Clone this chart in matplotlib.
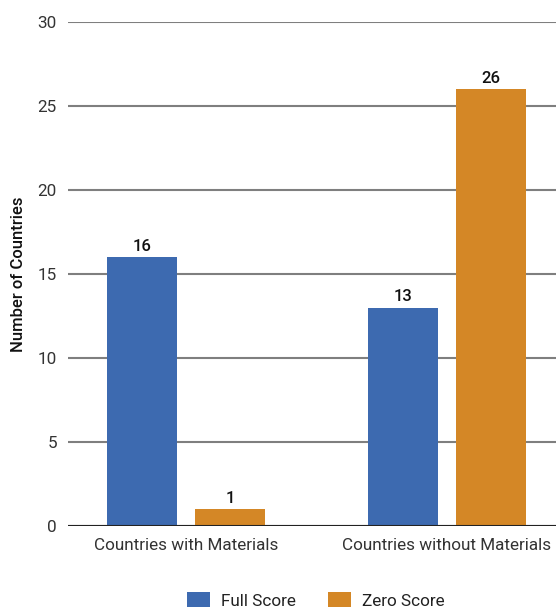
import matplotlib
matplotlib.use('Agg')
import matplotlib.pyplot as plt
import numpy as np

plt.rcParams['font.family'] = ['Roboto', 'DejaVu Sans']

groups = ['Countries with Materials', 'Countries without Materials']
series = ['Full Score', 'Zero Score']
full_score = [16, 13]
zero_score = [1, 26]
colors = ['#3d6ab0', '#d48726']

W, H = 556, 607
fig = plt.figure(figsize=(W / 100, H / 100), dpi=100)
# axes placed in pixel coordinates
x0, x1, y0, y1 = 68, 556, 526, 22
ax = fig.add_axes([x0 / W, 1 - y0 / H, (x1 - x0) / W, (y0 - y1) / H])

x = np.arange(len(groups))
width = 0.268
offset = 0.1686
for vals, name, col, off in [(full_score, series[0], colors[0], -offset),
                             (zero_score, series[1], colors[1], offset)]:
    bars = ax.bar(x + off, vals, width, color=col, label=name, zorder=3)
    for b, v in zip(bars, vals):
        ax.text(b.get_x() + b.get_width() / 2, v + 0.2, str(v),
                ha='center', va='bottom', fontsize=12, fontweight='medium',
                color='#111111')

ax.set_ylim(0, 30)
ax.set_xlim(-0.452, 1.418)
ax.set_yticks(range(0, 31, 5))
ax.set_xticks(x)
ax.set_xticklabels(groups)
ax.grid(axis='y', color='#7f7f7f', linewidth=1.5, zorder=0)
ax.axhline(0, color='#222222', linewidth=1.5, zorder=4)
for s in ax.spines.values():
    s.set_visible(False)
ax.tick_params(axis='both', length=0, labelsize=12.3, labelcolor='#333333')
ax.tick_params(axis='y', pad=8)
ax.tick_params(axis='x', pad=9)
ax.set_ylabel('Number of Countries', fontsize=12, fontweight='medium',
              color='#111111')
ax.yaxis.set_label_coords(-0.087, 0.5)

ax.legend(loc='center', bbox_to_anchor=(0.508, -0.147), ncol=2,
          frameon=False, fontsize=12.3, handlelength=1.35, handleheight=1.1,
          columnspacing=1.9, handletextpad=0.65, labelcolor='#222222')

fig.savefig('out.png', dpi=100)
